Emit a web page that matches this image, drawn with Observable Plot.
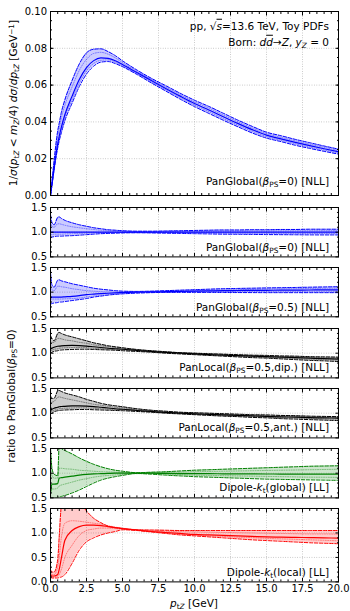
<!DOCTYPE html>
<html><head><meta charset="utf-8">
<script src="https://cdn.jsdelivr.net/npm/d3@7"></script>
<script src="https://cdn.jsdelivr.net/npm/@observablehq/plot@0.6"></script>
<style>
body{margin:0;background:#fff;}
#c{position:relative;width:350px;height:611px;font-family:"DejaVu Sans",sans-serif;color:#000;overflow:hidden;background:#fff}
#c svg{position:absolute;left:0}
.t{position:absolute;white-space:nowrap;line-height:1;font-size:10.5px}
.sb{font-size:70%;position:relative;top:0.3em}
.sp{font-size:70%;position:relative;top:-0.45em}
.ov{text-decoration:overline}
</style></head>
<body><div id="c"></div>
<script>
// common transverse-momentum grid (GeV)
const pt = [0, 0.1, 0.25, 0.5, 0.6, 0.75, 1, 1.5, 2, 2.5, 3, 3.5, 4, 4.5, 5, 6, 7, 8, 9, 10, 11, 12, 13, 14, 15, 16, 17, 18, 19, 20];

// top panel: normalised distribution, PanGlobal(beta=0) [NLL]
const distMid = [0, 0.006, 0.015, 0.028, 0.032, 0.037, 0.044, 0.054, 0.063, 0.0695, 0.0733, 0.0748, 0.0745, 0.0732, 0.0712, 0.0668, 0.0625, 0.0582, 0.054, 0.050, 0.0465, 0.0428, 0.0392, 0.0358, 0.0328, 0.0308, 0.0289, 0.0271, 0.0254, 0.0238];
const distHi  = [0, 0.0075, 0.019, 0.035, 0.039, 0.045, 0.052, 0.0625, 0.0715, 0.0775, 0.0795, 0.0797, 0.0782, 0.076, 0.0732, 0.0682, 0.0637, 0.0597, 0.0556, 0.0518, 0.0484, 0.0447, 0.041, 0.0376, 0.0344, 0.0325, 0.0305, 0.0287, 0.0269, 0.0252];
const distLo  = [0, 0.0054, 0.0138, 0.0258, 0.0295, 0.034, 0.0407, 0.0502, 0.0592, 0.066, 0.0703, 0.0725, 0.0728, 0.0717, 0.070, 0.0658, 0.0612, 0.0568, 0.0524, 0.0483, 0.0446, 0.0409, 0.0374, 0.034, 0.0312, 0.0293, 0.0273, 0.0256, 0.024, 0.0225];
const distDotHi = [0, 0.007, 0.017, 0.032, 0.036, 0.042, 0.049, 0.059, 0.068, 0.074, 0.0772, 0.0778, 0.0768, 0.0748, 0.0722, 0.0675, 0.0631, 0.0589, 0.0548, 0.0509, 0.0475, 0.0437, 0.0401, 0.0367, 0.0336, 0.0316, 0.0297, 0.0279, 0.0262, 0.0245];
const distDotLo = [0, 0.0057, 0.0145, 0.027, 0.031, 0.0355, 0.0425, 0.052, 0.061, 0.0678, 0.0718, 0.0735, 0.0737, 0.0725, 0.0706, 0.0663, 0.0618, 0.0575, 0.0532, 0.0492, 0.0456, 0.0418, 0.0383, 0.0349, 0.032, 0.030, 0.0281, 0.0263, 0.0247, 0.0231];

// ratio panels (to PanGlobal(beta=0) central)
const pg0Mid = [1, 1, 1, 1, 1, 1, 1, 1, 1, 1, 1, 1, 1, 1, 1, 1, 1, 1, 1, 1, 1, 1, 1, 1, 1, 1, 1, 1, 1, 1];
const pg0Hi  = [1.35, 1.2, 1.15, 1.3, 1.31, 1.28, 1.24, 1.19, 1.15, 1.12, 1.09, 1.07, 1.05, 1.04, 1.03, 1.02, 1.02, 1.025, 1.03, 1.035, 1.04, 1.045, 1.045, 1.05, 1.05, 1.055, 1.055, 1.06, 1.06, 1.06];
const pg0Lo  = [0.88, 0.9, 0.91, 0.92, 0.92, 0.92, 0.925, 0.93, 0.94, 0.95, 0.96, 0.97, 0.975, 0.98, 0.985, 0.988, 0.985, 0.98, 0.975, 0.97, 0.965, 0.96, 0.958, 0.955, 0.952, 0.95, 0.948, 0.946, 0.945, 0.945];
const pg0DotHi = [1.2, 1.12, 1.1, 1.17, 1.17, 1.16, 1.14, 1.11, 1.09, 1.07, 1.055, 1.04, 1.03, 1.025, 1.02, 1.012, 1.01, 1.012, 1.015, 1.018, 1.02, 1.022, 1.024, 1.025, 1.026, 1.027, 1.028, 1.029, 1.03, 1.03];
const pg0DotLo = [0.95, 0.95, 0.96, 0.96, 0.96, 0.96, 0.965, 0.97, 0.975, 0.98, 0.983, 0.986, 0.99, 0.992, 0.993, 0.995, 0.993, 0.99, 0.988, 0.986, 0.984, 0.982, 0.98, 0.978, 0.977, 0.976, 0.975, 0.974, 0.973, 0.972];

const pg5Mid = [0.88, 0.9, 0.9, 0.9, 0.9, 0.9, 0.905, 0.915, 0.93, 0.95, 0.96, 0.97, 0.978, 0.985, 0.99, 1.0, 1.005, 1.01, 1.015, 1.02, 1.025, 1.03, 1.033, 1.036, 1.038, 1.04, 1.042, 1.044, 1.046, 1.047];
const pg5Hi  = [1.4, 1.15, 1.1, 1.24, 1.25, 1.23, 1.21, 1.17, 1.14, 1.11, 1.08, 1.06, 1.045, 1.03, 1.02, 1.015, 1.02, 1.03, 1.04, 1.05, 1.06, 1.07, 1.075, 1.08, 1.085, 1.09, 1.095, 1.1, 1.105, 1.11];
const pg5Lo  = [0.75, 0.77, 0.78, 0.79, 0.8, 0.8, 0.81, 0.83, 0.85, 0.87, 0.9, 0.92, 0.94, 0.955, 0.965, 0.98, 0.99, 0.995, 0.995, 0.995, 0.995, 0.993, 0.992, 0.991, 0.99, 0.99, 0.99, 0.99, 0.99, 0.99];
const pg5DotHi = [1.1, 1.05, 1.03, 1.12, 1.12, 1.11, 1.1, 1.07, 1.05, 1.03, 1.02, 1.01, 1.005, 1.0, 1.0, 1.005, 1.01, 1.02, 1.025, 1.03, 1.04, 1.045, 1.05, 1.055, 1.06, 1.065, 1.07, 1.075, 1.078, 1.08];
const pg5DotLo = [0.85, 0.86, 0.86, 0.86, 0.86, 0.86, 0.865, 0.87, 0.88, 0.9, 0.92, 0.935, 0.95, 0.96, 0.975, 0.99, 0.995, 1.0, 1.005, 1.01, 1.012, 1.013, 1.014, 1.015, 1.016, 1.017, 1.018, 1.019, 1.02, 1.02];

const plDipMid = [1.08, 1.1, 1.12, 1.14, 1.145, 1.15, 1.155, 1.16, 1.155, 1.145, 1.13, 1.115, 1.1, 1.09, 1.08, 1.055, 1.035, 1.015, 1.0, 0.985, 0.97, 0.96, 0.95, 0.94, 0.93, 0.92, 0.91, 0.9, 0.89, 0.88];
const plDipHi  = [1.35, 1.3, 1.25, 1.4, 1.42, 1.4, 1.37, 1.33, 1.29, 1.25, 1.21, 1.18, 1.15, 1.13, 1.11, 1.075, 1.05, 1.03, 1.01, 1.0, 0.99, 0.98, 0.97, 0.96, 0.955, 0.945, 0.94, 0.93, 0.925, 0.92];
const plDipLo  = [1.0, 1.02, 1.04, 1.05, 1.06, 1.065, 1.07, 1.075, 1.08, 1.08, 1.075, 1.07, 1.065, 1.06, 1.05, 1.035, 1.02, 1.0, 0.985, 0.97, 0.955, 0.94, 0.925, 0.91, 0.9, 0.885, 0.87, 0.855, 0.845, 0.83];
const plDipDotHi = [1.2, 1.22, 1.22, 1.3, 1.3, 1.29, 1.27, 1.25, 1.22, 1.2, 1.17, 1.15, 1.13, 1.115, 1.1, 1.07, 1.045, 1.025, 1.008, 0.995, 0.982, 0.972, 0.962, 0.952, 0.943, 0.933, 0.925, 0.915, 0.908, 0.9];
const plDipDotLo = [1.04, 1.06, 1.08, 1.09, 1.1, 1.105, 1.11, 1.115, 1.115, 1.11, 1.1, 1.09, 1.08, 1.07, 1.065, 1.045, 1.027, 1.008, 0.992, 0.977, 0.962, 0.95, 0.938, 0.925, 0.915, 0.902, 0.89, 0.878, 0.868, 0.855];

const plAntMid = [1.05, 1.08, 1.1, 1.12, 1.13, 1.135, 1.14, 1.15, 1.15, 1.145, 1.135, 1.12, 1.105, 1.09, 1.08, 1.055, 1.035, 1.015, 1.0, 0.985, 0.975, 0.965, 0.955, 0.945, 0.935, 0.925, 0.92, 0.91, 0.905, 0.9];
const plAntHi  = [1.35, 1.3, 1.3, 1.45, 1.46, 1.44, 1.41, 1.37, 1.33, 1.28, 1.24, 1.2, 1.17, 1.15, 1.13, 1.09, 1.06, 1.04, 1.02, 1.01, 1.0, 0.99, 0.98, 0.97, 0.965, 0.955, 0.95, 0.94, 0.935, 0.93];
const plAntLo  = [0.98, 1.0, 1.03, 1.05, 1.055, 1.06, 1.065, 1.07, 1.075, 1.075, 1.07, 1.065, 1.06, 1.055, 1.05, 1.035, 1.02, 1.0, 0.985, 0.97, 0.955, 0.94, 0.93, 0.915, 0.905, 0.89, 0.88, 0.87, 0.86, 0.85];
const plAntDotHi = [1.2, 1.22, 1.24, 1.32, 1.33, 1.32, 1.3, 1.27, 1.24, 1.21, 1.18, 1.16, 1.14, 1.12, 1.105, 1.075, 1.048, 1.028, 1.01, 0.998, 0.988, 0.978, 0.968, 0.958, 0.95, 0.94, 0.935, 0.925, 0.92, 0.915];
const plAntDotLo = [1.02, 1.04, 1.06, 1.08, 1.09, 1.095, 1.1, 1.105, 1.11, 1.105, 1.1, 1.09, 1.08, 1.07, 1.065, 1.045, 1.027, 1.008, 0.992, 0.977, 0.965, 0.952, 0.942, 0.93, 0.92, 0.908, 0.9, 0.89, 0.882, 0.875];

const dkgMid = [0.6, 0.78, 0.78, 0.79, 0.9, 0.91, 0.92, 0.94, 0.96, 0.975, 0.985, 0.99, 0.995, 1.0, 1.0, 1.0, 1.0, 0.995, 0.993, 0.99, 0.99, 0.988, 0.987, 0.985, 0.984, 0.983, 0.982, 0.981, 0.98, 0.98];
const dkgHi  = [1.5, 1.1, 0.98, 0.95, 1.55, 1.5, 1.46, 1.39, 1.31, 1.24, 1.18, 1.13, 1.09, 1.06, 1.04, 1.01, 1.02, 1.03, 1.045, 1.06, 1.07, 1.08, 1.09, 1.1, 1.11, 1.12, 1.13, 1.14, 1.145, 1.15];
const dkgLo  = [0.5, 0.5, 0.5, 0.51, 0.52, 0.53, 0.55, 0.6, 0.66, 0.73, 0.8, 0.86, 0.9, 0.93, 0.955, 0.995, 0.98, 0.96, 0.945, 0.93, 0.92, 0.91, 0.9, 0.89, 0.88, 0.875, 0.87, 0.865, 0.86, 0.855];
const dkgDotHi = [1.1, 0.95, 0.9, 0.9, 1.1, 1.1, 1.09, 1.08, 1.06, 1.05, 1.04, 1.03, 1.025, 1.02, 1.015, 1.005, 1.01, 1.015, 1.02, 1.03, 1.035, 1.04, 1.045, 1.05, 1.055, 1.06, 1.065, 1.07, 1.075, 1.08];
const dkgDotLo = [0.6, 0.68, 0.68, 0.7, 0.74, 0.76, 0.78, 0.82, 0.86, 0.89, 0.92, 0.94, 0.955, 0.965, 0.975, 0.99, 0.99, 0.98, 0.97, 0.96, 0.955, 0.95, 0.945, 0.94, 0.935, 0.93, 0.925, 0.92, 0.918, 0.915];

const dklMid = [0.15, 0.12, 0.12, 0.15, 0.25, 0.48, 0.85, 1.05, 1.13, 1.16, 1.16, 1.15, 1.13, 1.11, 1.09, 1.06, 1.03, 1.01, 0.99, 0.97, 0.96, 0.95, 0.94, 0.93, 0.92, 0.915, 0.91, 0.905, 0.9, 0.895];
const dklHi  = [0.25, 0.2, 0.2, 0.45, 0.9, 1.55, 1.8, 1.8, 1.65, 1.45, 1.3, 1.21, 1.14, 1.11, 1.09, 1.065, 1.06, 1.055, 1.05, 1.05, 1.05, 1.05, 1.05, 1.05, 1.05, 1.05, 1.05, 1.05, 1.05, 1.05];
const dklLo  = [0.1, 0.08, 0.08, 0.08, 0.09, 0.1, 0.15, 0.38, 0.65, 0.82, 0.9, 0.96, 1.0, 1.03, 1.065, 1.05, 1.02, 0.99, 0.96, 0.94, 0.92, 0.9, 0.88, 0.86, 0.845, 0.83, 0.815, 0.8, 0.79, 0.78];
const dklDotHi = [0.2, 0.15, 0.15, 0.3, 0.5, 0.9, 1.2, 1.25, 1.24, 1.22, 1.2, 1.18, 1.15, 1.12, 1.1, 1.065, 1.045, 1.035, 1.025, 1.02, 1.015, 1.01, 1.005, 1.0, 0.995, 0.99, 0.985, 0.98, 0.98, 0.975];
const dklDotLo = [0.12, 0.1, 0.1, 0.12, 0.15, 0.25, 0.5, 0.75, 0.95, 1.05, 1.08, 1.1, 1.1, 1.09, 1.08, 1.055, 1.025, 1.0, 0.975, 0.955, 0.94, 0.93, 0.915, 0.905, 0.89, 0.88, 0.87, 0.86, 0.85, 0.84];

// tick values
const xMajor = [0, 2.5, 5, 7.5, 10, 12.5, 15, 17.5, 20];
const xMinor = d3.range(0.5, 20, 0.5).filter(v => Math.abs(v / 2.5 - Math.round(v / 2.5)) > 1e-6);
const distTicks = [0, 0.02, 0.04, 0.06, 0.08, 0.1];
const ratioTicks = [0.5, 1.0, 1.5];
const lastTicks = [0, 0.5, 1.0, 1.5];

const c = document.getElementById("c");
const rowsOf = (cfg) => pt.map((x, i) => ({x, lo: cfg.lo[i], mid: cfg.mid[i], hi: cfg.hi[i], dlo: cfg.dlo[i], dhi: cfg.dhi[i]}));
const noFmt = () => "";
const gridStyle = {stroke: "#b0b0b0", strokeOpacity: 1, strokeWidth: 0.8, strokeDasharray: "0.8,1.6"};

function panel(cfg) {
  const rows = rowsOf(cfg);
  const curve = "monotone-x";
  const dash = {stroke: cfg.color, strokeWidth: 1, strokeDasharray: "3.5,1.6", curve, clip: true};
  const dot = {stroke: cfg.color, strokeOpacity: 0.45, strokeWidth: 0.9, strokeDasharray: "1,1.4", curve, clip: true};
  const marks = [
    Plot.gridX(xMajor.slice(1, -1), gridStyle),
    Plot.gridY(cfg.yGrid, gridStyle),
    Plot.areaY(rows, {x: "x", y1: "lo", y2: "hi", fill: cfg.color, fillOpacity: 0.2, curve, clip: true}),
    Plot.lineY(rows, {x: "x", y: "dhi", ...dot}),
    Plot.lineY(rows, {x: "x", y: "dlo", ...dot}),
    Plot.lineY(rows, {x: "x", y: "hi", ...dash}),
    Plot.lineY(rows, {x: "x", y: "lo", ...dash}),
    Plot.lineY(rows, {x: "x", y: "mid", stroke: cfg.color, strokeWidth: 1.2, curve, clip: true}),
    Plot.frame({stroke: "black", strokeWidth: 1}),
    Plot.axisX(xMajor, {anchor: "bottom", tickSize: -3.5, tickPadding: 7, label: null, tickFormat: cfg.xLabels ? (d => d.toFixed(1)) : noFmt}),
    Plot.axisX(xMajor, {anchor: "top", tickSize: -3.5, label: null, tickFormat: noFmt}),
    Plot.axisX(xMinor, {anchor: "bottom", tickSize: -2, label: null, tickFormat: noFmt}),
    Plot.axisX(xMinor, {anchor: "top", tickSize: -2, label: null, tickFormat: noFmt}),
    Plot.axisY(cfg.yTicks, {anchor: "left", tickSize: -3.5, tickPadding: 7, label: null, tickFormat: d => d.toFixed(cfg.dec)}),
    Plot.axisY(cfg.yTicks, {anchor: "right", tickSize: -3.5, label: null, tickFormat: noFmt}),
    Plot.axisY(cfg.yMinor, {anchor: "left", tickSize: -2, label: null, tickFormat: noFmt}),
    Plot.axisY(cfg.yMinor, {anchor: "right", tickSize: -2, label: null, tickFormat: noFmt})
  ];
  const svg = Plot.plot({
    width: 350, height: cfg.h,
    marginLeft: 50, marginRight: 12, marginTop: cfg.mt, marginBottom: cfg.mb,
    x: {domain: [0, 20], label: null},
    y: {domain: cfg.yDomain, label: null},
    style: {background: "transparent", fontFamily: "'DejaVu Sans'", fontSize: "10px", color: "black", overflow: "visible"},
    marks
  });
  svg.style.top = cfg.top + "px";
  c.appendChild(svg);
}

// top distribution panel
panel({lo: distLo, mid: distMid, hi: distHi, dlo: distDotLo, dhi: distDotHi, color: "#0000ff", top: 0, h: 200, mt: 11, mb: 5,
  yDomain: [0, 0.1], yTicks: distTicks, yGrid: [0.02, 0.04, 0.06, 0.08], yMinor: d3.range(0.005, 0.1, 0.005), dec: 2, xLabels: false});

const ratioPanels = [
  {lo: pg0Lo, mid: pg0Mid, hi: pg0Hi, dlo: pg0DotLo, dhi: pg0DotHi, color: "#0000ff", t: 207.3, b: 256.7},
  {lo: pg5Lo, mid: pg5Mid, hi: pg5Hi, dlo: pg5DotLo, dhi: pg5DotHi, color: "#0000ff", t: 267.4, b: 316.7},
  {lo: plDipLo, mid: plDipMid, hi: plDipHi, dlo: plDipDotLo, dhi: plDipDotHi, color: "#000000", t: 327.5, b: 376.9},
  {lo: plAntLo, mid: plAntMid, hi: plAntHi, dlo: plAntDotLo, dhi: plAntDotHi, color: "#000000", t: 387.6, b: 437.0},
  {lo: dkgLo, mid: dkgMid, hi: dkgHi, dlo: dkgDotLo, dhi: dkgDotHi, color: "#008000", t: 447.7, b: 497.1}
];
for (const p of ratioPanels) {
  panel({...p, top: p.t - 5, h: p.b - p.t + 10, mt: 5, mb: 5, yDomain: [0.5, 1.5], yTicks: ratioTicks, yGrid: [1.0],
    yMinor: [0.6, 0.7, 0.8, 0.9, 1.1, 1.2, 1.3, 1.4], dec: 1, xLabels: false});
}
// last panel (red)
panel({lo: dklLo, mid: dklMid, hi: dklHi, dlo: dklDotLo, dhi: dklDotHi, color: "#ff0000", top: 503.3, h: 611 - 503.3, mt: 5, mb: 611 - 581.7,
  yDomain: [0, 1.5], yTicks: lastTicks, yGrid: [0.5, 1.0], yMinor: d3.range(0.1, 1.5, 0.1).filter(v => Math.abs(v*2 - Math.round(v*2)) > 1e-6), dec: 1, xLabels: true});

// text annotations
function txt(html, o) {
  const d = document.createElement("div");
  d.className = "t";
  d.innerHTML = html;
  if (o.size) d.style.fontSize = o.size + "px";
  if (o.right != null) { d.style.right = (350 - o.right) + "px"; d.style.textAlign = "right"; }
  if (o.cx != null) d.style.left = o.cx + "px";
  d.style.top = o.cy + "px";
  d.style.transform = o.rot ? "translate(-50%,-50%) rotate(-90deg)" : (o.cx != null ? "translate(-50%,-50%)" : "translate(0,-50%)");
  c.appendChild(d);
}
const beta = v => `<i>β</i><span class="sb">PS</span>=${v}`;
txt(`pp, √<i class="ov">s</i>=13.6 TeV, Toy PDFs`, {right: 329, cy: 26});
txt(`Born: <i>d</i><i class="ov">d</i>→<i>Z</i>, <i>y</i><span class="sb"><i>Z</i></span> = 0`, {right: 329, cy: 42});
txt(`PanGlobal(${beta(0)}) [NLL]`, {right: 329, cy: 181});
const rLabels = [
  `PanGlobal(${beta(0)}) [NLL]`,
  `PanGlobal(${beta(0.5)}) [NLL]`,
  `PanLocal(${beta("0.5,dip.")}) [NLL]`,
  `PanLocal(${beta("0.5,ant.")}) [NLL]`,
  `Dipole-<i>k</i><span class="sb">t</span>(global) [LL]`
];
ratioPanels.forEach((p, i) => txt(rLabels[i], {right: 329, cy: p.b - 10}));
txt(`Dipole-<i>k</i><span class="sb">t</span>(local) [LL]`, {right: 329, cy: 571.7});

txt(`1/<i>σ</i>(<i>p</i><span class="sb">t<i>Z</i></span> &lt; <i>m</i><span class="sb"><i>Z</i></span>/4) <i>dσ</i>/<i>dp</i><span class="sb">t<i>Z</i></span> [GeV<span class="sp">−1</span>]`, {cx: 13, cy: 103, rot: true, size: 10.5});
txt(`ratio to PanGlobal(${beta(0)})`, {cx: 11, cy: 396, rot: true, size: 10.5});
txt(`<i>p</i><span class="sb">t<i>Z</i></span> [GeV]`, {cx: 194, cy: 603, size: 10.5});
</script></body></html>
